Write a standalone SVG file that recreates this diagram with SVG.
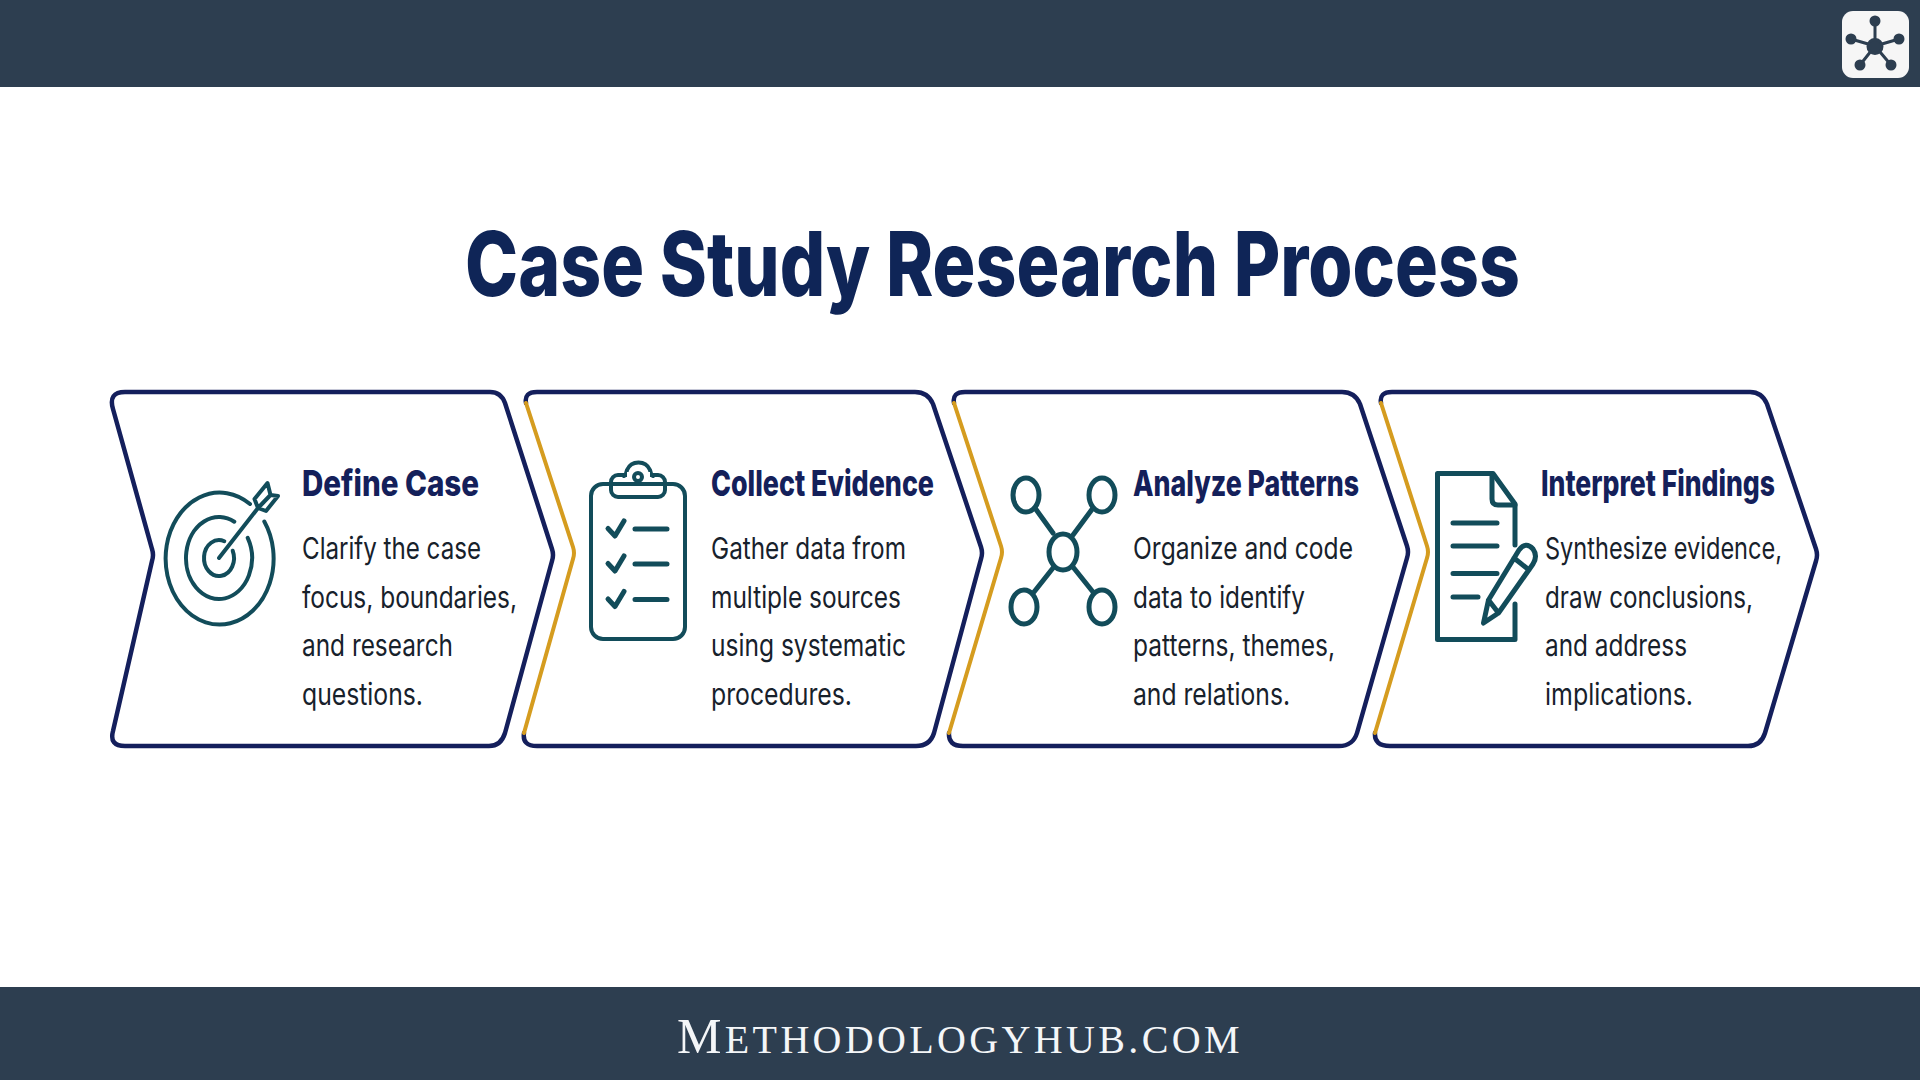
<svg xmlns="http://www.w3.org/2000/svg" width="1920" height="1080" viewBox="0 0 1920 1080">
<style>
.bar{fill:#2d3e50}
.chev{fill:none;stroke:#141f5c;stroke-width:4.500;stroke-linejoin:round;stroke-linecap:round}
.gold{fill:none;stroke:#d59c1f;stroke-width:4;stroke-linejoin:round;stroke-linecap:round}
.ic{fill:none;stroke:#124c5a;stroke-width:4;stroke-linecap:round;stroke-linejoin:round}
.ict{fill:none;stroke:#124c5a;stroke-width:5;stroke-linecap:round;stroke-linejoin:round}
.title{font:800 90px Inter,Roboto,"Liberation Sans",sans-serif;fill:#0f2557}
.h{font:800 36px Inter,Roboto,"Liberation Sans",sans-serif;fill:#14205a}
.b{font:400 30px Inter,Roboto,"Liberation Sans",sans-serif;fill:#17212b}
.foot{font-family:"Liberation Serif",serif;fill:#f4f6f8;letter-spacing:3.350px}
.logo{fill:#2d3e50;stroke:#2d3e50;stroke-width:3}
</style>
<rect width="1920" height="1080" fill="#fff"/>
<g id="header"><rect class="bar" width="1920" height="87"/></g>
<g id="logo">
<rect x="1842" y="11" width="67" height="67" rx="11" fill="#f6f6f6"/>
<path class="logo" d="M1875 46L1875 21M1875 46L1851 39M1875 46L1899 39M1875 46L1860 65M1875 46L1891 65"/>
<circle class="logo" cx="1875" cy="46.500" r="7"/>
<circle class="logo" cx="1875" cy="21" r="4"/><circle class="logo" cx="1851" cy="39" r="4"/><circle class="logo" cx="1899" cy="39" r="4"/><circle class="logo" cx="1860" cy="65" r="4"/><circle class="logo" cx="1891" cy="65" r="4"/>
</g>
<g id="title-block"><text class="title" x="465" y="296" textLength="1055" lengthAdjust="spacingAndGlyphs">Case Study Research Process</text></g>

<g id="step-define-case">
<path d="M125 392L490 392Q501 392 505 403L552 549Q554 555 552 561L505 733Q501 746 489 746L125 746Q109 746 113 731L152 561Q154 555 152 549L113 409Q108 392 125 392Z" class="chev"/>
<g transform="translate(1 1)">
<path class="ic" d="M263.300 520.500A54 66 0 1 1 249 503"/>
<path class="ic" d="M246.700 536.800A33 41 0 1 1 233.300 520.700"/>
<path class="ic" d="M231.700 549.700A15 18 0 1 1 223.300 540.200"/>
<path class="ic" d="M218 557L257 507L253.500 498L266.500 482L269.500 494L277 495L265 510L257 507M257 507L269.500 494"/>
</g>
<text class="h" x="302" y="496" textLength="177" lengthAdjust="spacingAndGlyphs">Define Case</text>
<text class="b" x="302" y="559" textLength="179" lengthAdjust="spacingAndGlyphs">Clarify the case</text>
<text class="b" x="302" y="608" textLength="215" lengthAdjust="spacingAndGlyphs">focus, boundaries,</text>
<text class="b" x="302" y="656" textLength="151" lengthAdjust="spacingAndGlyphs">and research</text>
<text class="b" x="302" y="705" textLength="121" lengthAdjust="spacingAndGlyphs">questions.</text>
</g>

<g id="step-collect-evidence">
<path class="chev" d="M526 403Q524 392 537 392L915 392Q928 392 933 404L981 547Q983 553 981 559L934 733Q930 746 916 746L537 746Q522 746 524 733"/>
<rect class="ic" x="591" y="484" width="94" height="155" rx="12"/>
<path class="ic" d="M624 476Q626 475 627 470A12.500 12.500 0 0 1 650 470Q651 475 653 476" fill="#fff"/>
<rect class="ic" x="611" y="475" width="54" height="22" rx="7" fill="#fff"/>
<path d="M627 477H650V472H627Z" fill="#fff"/>
<circle class="ic" cx="638" cy="477" r="4" stroke-width="3.500"/>
<path class="ict" d="M608 528.500L615 536L624 521M635 529H667M608 563.500L615 571L624 556M635 564H667M608 599L615 606.500L624 591.500M635 599.500H667"/>
<text class="h" x="711" y="496" textLength="223" lengthAdjust="spacingAndGlyphs">Collect Evidence</text>
<text class="b" x="711" y="559" textLength="195" lengthAdjust="spacingAndGlyphs">Gather data from</text>
<text class="b" x="711" y="608" textLength="190" lengthAdjust="spacingAndGlyphs">multiple sources</text>
<text class="b" x="711" y="656" textLength="195" lengthAdjust="spacingAndGlyphs">using systematic</text>
<text class="b" x="711" y="705" textLength="141" lengthAdjust="spacingAndGlyphs">procedures.</text>
</g>

<g id="step-analyze-patterns">
<path class="chev" d="M954 403Q952 392 965 392L1342 392Q1355 392 1360 404L1407 546Q1409 552 1407 558L1357 733Q1353 746 1339 746L963 746Q948 746 949 733"/>
<g class="ict">
<ellipse cx="1063" cy="552" rx="14" ry="18"/>
<ellipse cx="1026" cy="495" rx="13" ry="17"/>
<ellipse cx="1102" cy="495" rx="13" ry="17"/>
<ellipse cx="1024" cy="607" rx="13" ry="17"/>
<ellipse cx="1102" cy="607" rx="13" ry="17"/>
<path d="M1035 508L1053 533M1093 508L1073 535M1034 592L1053 568M1093 592L1073 567"/>
</g>
<text class="h" x="1133" y="496" textLength="226" lengthAdjust="spacingAndGlyphs">Analyze Patterns</text>
<text class="b" x="1133" y="559" textLength="220" lengthAdjust="spacingAndGlyphs">Organize and code</text>
<text class="b" x="1133" y="608" textLength="172" lengthAdjust="spacingAndGlyphs">data to identify</text>
<text class="b" x="1133" y="656" textLength="202" lengthAdjust="spacingAndGlyphs">patterns, themes,</text>
<text class="b" x="1133" y="705" textLength="157" lengthAdjust="spacingAndGlyphs">and relations.</text>
</g>

<g id="step-interpret-findings">
<path class="chev" d="M1381 403Q1379 392 1392 392L1750 392Q1762 392 1767 404L1816 549Q1818 555 1816 561L1765 733Q1761 746 1748 746L1390 746Q1374 746 1375 733"/>
<path class="ict" d="M1515 545V504L1493 473.500H1437.500V639.500H1515V604"/>
<path class="ict" d="M1492 476V499Q1492 505 1498 505H1515"/>
<path class="ict" d="M1453 523H1497M1453 546H1497M1453 573.500H1497M1453 597H1478"/>
<path class="ict" d="M1483.500 623L1488.500 600L1519 550Q1526 541 1533 549Q1538 556 1533 564L1498.500 613ZM1488.500 600L1498.500 613M1514 558L1529 570"/>
<text class="h" x="1541" y="496" textLength="234" lengthAdjust="spacingAndGlyphs">Interpret Findings</text>
<text class="b" x="1545" y="559" textLength="237" lengthAdjust="spacingAndGlyphs">Synthesize evidence,</text>
<text class="b" x="1545" y="608" textLength="208" lengthAdjust="spacingAndGlyphs">draw conclusions,</text>
<text class="b" x="1545" y="656" textLength="142" lengthAdjust="spacingAndGlyphs">and address</text>
<text class="b" x="1545" y="705" textLength="148" lengthAdjust="spacingAndGlyphs">implications.</text>
</g>

<g id="connectors">
<path class="gold" d="M526 403L573 547Q575 553 573 559L524 733"/>
<path class="gold" d="M954 403L1001 546Q1003 552 1001 558L949 733"/>
<path class="gold" d="M1381 403L1427 546Q1429 552 1427 558L1375 733"/>
</g>

<g id="footer"><rect class="bar" y="987" width="1920" height="93"/>
<text class="foot" x="677" y="1053"><tspan font-size="50">M</tspan><tspan font-size="40">ETHODOLOGYHUB.COM</tspan></text></g>
</svg>
